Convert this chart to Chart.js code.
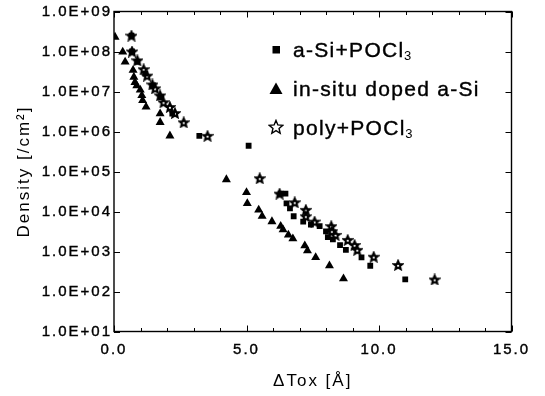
<!DOCTYPE html>
<html><head><meta charset="utf-8">
<script src="https://cdn.jsdelivr.net/npm/chart.js@4.4.0/dist/chart.umd.min.js"></script>
<style>html,body{margin:0;padding:0;background:#fff}</style>
</head><body>
<canvas id="c" width="545" height="396" style="width:545px;height:396px;display:block"></canvas>
<script>
// ---------- data ----------
const seriesLabels = ['a-Si+POCl₃', 'in-situ doped a-Si', 'poly+POCl₃'];

const aSiX = [0.66,0.68,0.88,1.18,1.45,1.78,2.2,3.22,5.08,6.29,6.47,6.51,6.64,6.78,7.14,7.43,7.76,8.0,8.07,8.26,8.53,8.75,9.34,9.67,10.99];
const aSiY = [2.5e8,1.0e8,5.5e7,2.8e7,1.4e7,7.2e6,2.8e6,7.8e5,4.4e5,2.8e4,2.8e4,1.6e4,1.2e4,7.6e3,5.6e3,4.7e3,4.3e3,3.2e3,2.3e3,2.0e3,1.45e3,1.1e3,7.1e2,4.4e2,2.0e2];

const inSituX = [0.04,0.33,0.42,0.72,0.75,0.79,0.86,0.99,1.05,1.08,1.21,1.74,1.74,2.11,4.24,5.0,5.03,5.46,5.59,5.96,6.29,6.38,6.58,6.75,7.2,7.3,7.61,8.13,8.66];
const inSituY = [2.3e8,9.8e7,5.5e7,3.4e7,2.3e7,1.7e7,1.4e7,1.1e7,8.0e6,6.0e6,4.1e6,2.8e6,1.7e6,7.8e5,6.3e4,3.0e4,1.6e4,1.1e4,7.6e3,5.6e3,4.3e3,3.5e3,2.6e3,2.1e3,1.4e3,1.05e3,7.1e2,4.4e2,2.1e2];

const polyX = [0.66,0.68,0.88,1.12,1.25,1.45,1.55,1.74,1.87,2.11,2.30,2.63,3.53,5.5,6.25,6.82,7.24,7.24,7.57,8.2,8.22,8.36,8.82,9.08,9.18,9.8,10.72,12.1];
const polyY = [2.5e8,1.0e8,6.0e7,3.6e7,2.5e7,1.5e7,1.2e7,8.0e6,5.4e6,4.1e6,2.9e6,1.7e6,7.8e5,6.8e4,2.8e4,1.7e4,1.1e4,7.6e3,5.6e3,4.3e3,3.2e3,2.6e3,1.95e3,1.45e3,1.1e3,7.4e2,4.6e2,2.0e2];

const xTicks = [0, 5, 10, 15];
const xTickLabels = ['0.0', '5.0', '10.0', '15.0'];
const yTicks = [1e1, 1e2, 1e3, 1e4, 1e5, 1e6, 1e7, 1e8, 1e9];
const yTickLabels = ['1.0E+01','1.0E+02','1.0E+03','1.0E+04','1.0E+05','1.0E+06','1.0E+07','1.0E+08','1.0E+09'];
const xTitle = 'ΔTox [Å]';
const yTitle = 'Density [/cm²]';

// ---------- styling helpers ----------
const FONT = "'Liberation Sans', Arial, Helvetica, sans-serif";
function starCanvas(size, lw, fill, dot) {
  const c = document.createElement('canvas');
  c.width = c.height = size;
  const g = c.getContext('2d');
  const R = size / 2 - lw / 2 - 0.2, r = R * 0.45;
  g.beginPath();
  for (let k = 0; k < 10; k++) {
    const a = -Math.PI / 2 + k * Math.PI / 5;
    const rr = k % 2 ? r : R;
    g.lineTo(size / 2 + rr * Math.cos(a), size / 2 + 0.5 + rr * Math.sin(a));
  }
  g.closePath();
  if (fill) { g.fillStyle = fill; g.fill(); }
  g.lineWidth = lw; g.strokeStyle = '#000'; g.lineJoin = 'miter';
  g.stroke();
  if (dot) {
    g.fillStyle = '#fff';
    g.beginPath(); g.arc(size / 2, size / 2 + 0.8, dot, 0, Math.PI * 2); g.fill();
  }
  return c;
}
const dataStar = starCanvas(12, 1.6, '#000', 1.1);
const legendStar = starCanvas(16, 1.4, '#fff', 0);

const zip = (xs, ys) => xs.map((x, i) => ({ x, y: ys[i] }));

const framePlugin = {
  id: 'frame',
  beforeDraw(chart) {
    chart.ctx.letterSpacing = '2px';
  },
  afterDraw(chart) {
    const { ctx, chartArea: a, scales } = chart;
    ctx.save();
    ctx.letterSpacing = '0px';
    ctx.strokeStyle = '#000';
    ctx.lineWidth = 1.4;
    ctx.strokeRect(a.left, a.top, a.right - a.left, a.bottom - a.top);
    ctx.lineWidth = 1;
    ctx.beginPath();
    for (let v = 0; v <= 15; v++) {
      const px = Math.round(scales.x.getPixelForValue(v)) + 0.5;
      const len = (v % 5 === 0) ? 6 : 3.5;
      ctx.moveTo(px, a.bottom); ctx.lineTo(px, a.bottom - len);
      ctx.moveTo(px, a.top); ctx.lineTo(px, a.top + len);
    }
    yTicks.forEach(v => {
      const py = Math.round(scales.y.getPixelForValue(v)) + 0.5;
      ctx.moveTo(a.left, py); ctx.lineTo(a.left + 6, py);
      ctx.moveTo(a.right, py); ctx.lineTo(a.right - 6, py);
    });
    ctx.stroke();

    // legend inside plot
    const rows = [50, 89, 128];
    const mx = 276, tx = 293;
    chart.data.datasets.forEach((ds, i) => {
      const y = rows[i];
      ctx.fillStyle = '#000';
      if (i === 0) {
        ctx.fillRect(mx - 3.5, y - 4, 7.5, 7.5);
      } else if (i === 1) {
        ctx.beginPath();
        ctx.moveTo(mx, y - 6.5); ctx.lineTo(mx + 6.5, y + 5); ctx.lineTo(mx - 6.5, y + 5);
        ctx.closePath(); ctx.fill();
      } else {
        ctx.drawImage(legendStar, mx - legendStar.width / 2, y - legendStar.height / 2 - 1);
      }
      const parts = ds.label.split('₃');
      ctx.letterSpacing = '1.3px';
      ctx.font = '21px ' + FONT;
      ctx.textBaseline = 'middle';
      ctx.textAlign = 'left';
      ctx.fillStyle = '#000';
      ctx.strokeStyle = '#000';
      ctx.lineWidth = 0.4;
      ctx.fillText(parts[0], tx, y + 1);
      ctx.strokeText(parts[0], tx, y + 1);
      if (parts.length > 1) {
        const w = ctx.measureText(parts[0]).width;
        ctx.font = '13px ' + FONT;
        ctx.fillText('3', tx + w - 0.5, y + 6.5);
      }
    });
    ctx.restore();
  }
};

new Chart(document.getElementById('c'), {
  type: 'scatter',
  data: {
    datasets: [
      { label: seriesLabels[0], data: zip(aSiX, aSiY), pointStyle: 'rect', pointRadius: 4.1,
        backgroundColor: '#000', borderColor: '#000', borderWidth: 0 },
      { label: seriesLabels[1], data: zip(inSituX, inSituY), pointStyle: 'triangle', pointRadius: 5.2,
        backgroundColor: '#000', borderColor: '#000', borderWidth: 0 },
      { label: seriesLabels[2], data: zip(polyX, polyY), pointStyle: dataStar, pointRadius: 6,
        backgroundColor: '#000', borderColor: '#000', borderWidth: 0 }
    ]
  },
  options: {
    responsive: false,
    animation: false,
    devicePixelRatio: 1,
    layout: { padding: { top: 11.5, right: 33.5, left: 0, bottom: 0 } },
    plugins: { legend: { display: false }, tooltip: { enabled: false } },
    scales: {
      x: {
        type: 'linear', min: 0, max: 15,
        afterFit(s) { s.height = 64.5; },
        afterBuildTicks(s) { s.ticks = xTicks.map(v => ({ value: v })); },
        ticks: {
          callback: (v) => xTickLabels[xTicks.indexOf(v)],
          padding: 9, autoSkip: false, maxRotation: 0,
          font: { family: FONT, size: 15 }, color: '#000',
          textStrokeColor: '#000', textStrokeWidth: 0.4
        },
        grid: { display: false, drawTicks: false },
        border: { display: false },
        title: { display: true, text: xTitle, color: '#000',
          font: { family: FONT, size: 17 }, padding: { top: 0, bottom: 4 } }
      },
      y: {
        type: 'logarithmic', min: 10, max: 1e9,
        afterFit(s) { s.width = 114; },
        afterBuildTicks(s) { s.ticks = yTicks.map(v => ({ value: v, major: true })); },
        ticks: {
          callback: (v) => yTickLabels[yTicks.indexOf(v)],
          padding: 2, autoSkip: false,
          font: { family: FONT, size: 15 }, color: '#000',
          textStrokeColor: '#000', textStrokeWidth: 0.4
        },
        grid: { display: false, drawTicks: false },
        border: { display: false },
        title: { display: true, text: yTitle, color: '#000',
          font: { family: FONT, size: 17 }, padding: { top: 14, bottom: 0 } }
      }
    }
  },
  plugins: [framePlugin]
});
</script>
</body></html>
